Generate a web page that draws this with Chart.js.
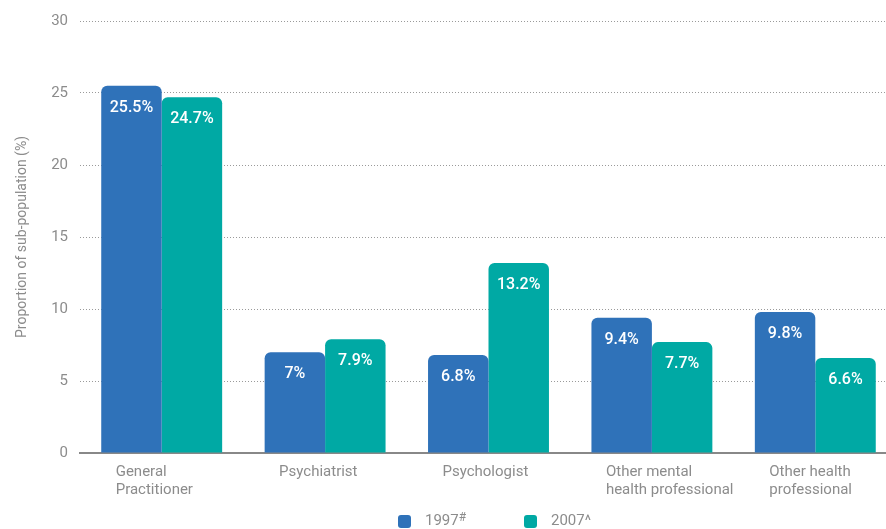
<!DOCTYPE html>
<html>
<head>
<meta charset="utf-8">
<script src="https://cdn.jsdelivr.net/npm/chart.js@4"></script>
<style>
    html, body { margin: 0; padding: 0; background: #fff; overflow: hidden; }
    #wrap { position: relative; width: 897px; height: 529px; }
    #legend { position: absolute; left: 0; top: 510px; width: 886px; height: 19px;
              font-family: Roboto, "Open Sans", sans-serif; font-size: 15px; color: #8c8c8c; }
    .item { position: absolute; top: 0; line-height: 19px; white-space: nowrap; }
    .box { position: absolute; top: 5px; width: 13px; height: 13px; border-radius: 3px; }
    .item span { position: absolute; left: 27px; top: 1px; }
    sup { font-size: 12px; position: relative; top: -3px; vertical-align: top; }
</style>
</head>
<body>
<div id="wrap">
    <canvas id="chart" width="897" height="529"></canvas>
    <div id="legend"></div>
</div>
<script>
// Data
const categories = [
    ['General', 'Practitioner'],
    'Psychiatrist',
    'Psychologist',
    ['Other mental', 'health professional'],
    ['Other health', 'professional']
];
const values1997 = [25.5, 7, 6.8, 9.4, 9.8];
const values2007 = [24.7, 7.9, 13.2, 7.7, 6.6];
const seriesNames = ['1997#', '2007^'];
const yTicks = [0, 5, 10, 15, 20, 25, 30];

const BLUE = '#2f72b9';
const TEAL = '#00a9a4';
const GREY = '#8c8c8c';
const FONT = 'Roboto, "Open Sans", sans-serif';

// white percentage labels inside the bar tops
const barLabels = {
    id: 'barLabels',
    afterDatasetsDraw(chart) {
        const ctx = chart.ctx;
        ctx.save();
        ctx.fillStyle = '#fff';
        ctx.font = '500 16px ' + FONT;
        ctx.textAlign = 'center';
        ctx.textBaseline = 'middle';
        chart.data.datasets.forEach((ds, i) => {
            chart.getDatasetMeta(i).data.forEach((bar, j) => {
                ctx.fillText(ds.data[j] + '%', bar.x, bar.y + 22);
            });
        });
        ctx.restore();
    }
};

const ctx = document.getElementById('chart').getContext('2d');
const chart = new Chart(ctx, {
    type: 'bar',
    data: {
        labels: categories,
        datasets: [
            { label: seriesNames[0], data: values1997, backgroundColor: BLUE },
            { label: seriesNames[1], data: values2007, backgroundColor: TEAL }
        ]
    },
    options: {
        responsive: false,
        animation: false,
        categoryPercentage: 0.74,
        barPercentage: 1,
        datasets: {
            bar: {
                borderRadius: { topLeft: 6, topRight: 6, bottomLeft: 0, bottomRight: 0 },
                borderSkipped: 'bottom'
            }
        },
        layout: { padding: { top: 10, right: 0, bottom: 20, left: 0 } },
        plugins: {
            legend: { display: false },
            tooltip: { enabled: false }
        },
        scales: {
            x: {
                afterFit(scale) {
                    scale.paddingLeft = 0;
                    scale.paddingRight = 0;
                },
                grid: { display: false, drawTicks: false },
                border: { display: true, color: '#888', width: 2 },
                ticks: {
                    color: GREY,
                    font: { family: FONT, size: 15 },
                    align: 'start',
                    labelOffset: -46,
                    padding: 10,
                    maxRotation: 0,
                    autoSkip: false
                }
            },
            y: {
                min: 0,
                max: 30,
                afterBuildTicks(scale) {
                    scale.ticks = yTicks.map(v => ({ value: v }));
                },
                afterFit(scale) { scale.width = 80; },
                grid: {
                    // zero line is drawn by the x axis border
                    color: ctx => ctx.tick && ctx.tick.value === 0 ? 'rgba(0,0,0,0)' : '#9a9a9a',
                    lineWidth: 1,
                    drawTicks: false
                },
                border: { display: false, dash: [1, 2] },
                ticks: {
                    color: GREY,
                    font: { family: FONT, size: 15 },
                    padding: 12
                },
                title: {
                    display: true,
                    text: 'Proportion of sub-population (%)',
                    color: GREY,
                    font: { family: FONT, size: 14 },
                    padding: { top: 14, bottom: 0 }
                }
            }
        }
    },
    plugins: [barLabels]
});

// HTML legend so the superscript can be real text
const legend = document.getElementById('legend');
const legendX = [398, 524];
chart.data.datasets.forEach((ds, i) => {
    const item = document.createElement('div');
    item.className = 'item';
    item.style.left = legendX[i] + 'px';
    const name = ds.label.replace('#', '<sup>#</sup>');
    item.innerHTML = '<div class="box" style="background:' + ds.backgroundColor + '"></div><span>' + name + '</span>';
    legend.appendChild(item);
});
</script>
</body>
</html>
